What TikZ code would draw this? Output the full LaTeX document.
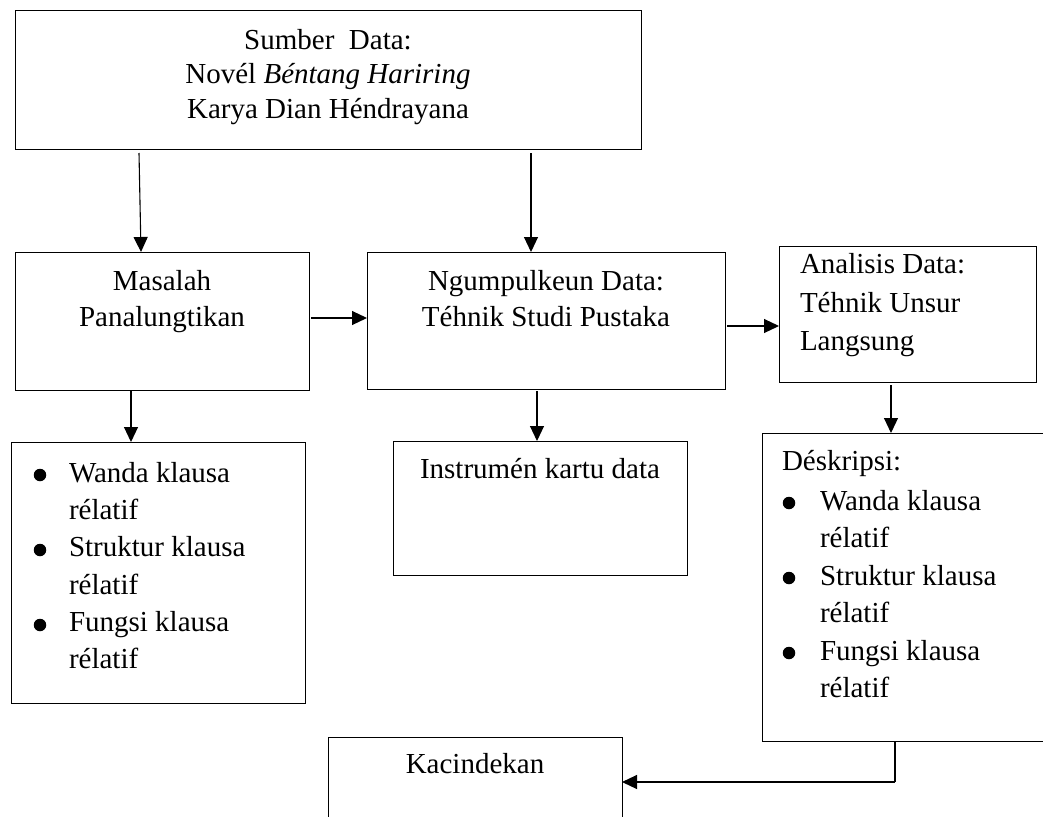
\documentclass[tikz,border=0pt]{standalone}
\usepackage{fontspec}
\setmainfont{Liberation Serif}
\usetikzlibrary{arrows.meta,calc}
\tikzset{
  box/.style={draw=black,line width=1pt,rectangle,inner sep=0pt,outer sep=0pt,anchor=north west},
  arr/.style={draw=black,line width=1.1pt,-{Triangle[length=15pt,width=14pt]}},
  conn/.style={draw=black,line width=1.1pt},
  txt/.style={inner sep=0pt,outer sep=0pt,font=\fontsize{29}{35}\selectfont},
  ctxt/.style={txt,anchor=base},
  ltxt/.style={txt,anchor=base west},
  bul/.style={circle,fill=black,inner sep=0pt,minimum size=12.5pt}
}
\begin{document}
\begin{tikzpicture}[x=1pt,y=-1pt]
\useasboundingbox (0,0) rectangle (1043,816);
\clip (0,0) rectangle (1043,816);
\fill[white] (0,0) rectangle (1043,816);

% boxes
\node[box,minimum width=626pt,minimum height=138pt] (top) at (15,11) {};
\node[box,minimum width=294pt,minimum height=138pt] (mas) at (15,252) {};
\node[box,minimum width=358pt,minimum height=137pt] (ngu) at (367,252) {};
\node[box,minimum width=257pt,minimum height=136pt] (ana) at (779,246) {};
\node[box,minimum width=294pt,minimum height=261pt] (lst) at (11,442) {};
\node[box,minimum width=294pt,minimum height=134pt] (ins) at (393,441) {};
\node[box,minimum width=300pt,minimum height=308pt] (des) at (762,433) {};
\node[box,minimum width=294pt,minimum height=100pt] (kac) at (328,737) {};

% texts
\node[ctxt] (t1) at (328,49) {Sumber\ \ Data:};
\node[ctxt] (t2) at (328,83) {Novél \textit{Béntang Hariring}};
\node[ctxt] (t3) at (328,118) {Karya Dian Héndrayana};

\node[ctxt] (m1) at (162,290) {Masalah};
\node[ctxt] (m2) at (162,326) {Panalungtikan};

\node[ctxt] (n1) at (546,290) {Ngumpulkeun Data:};
\node[ctxt] (n2) at (546,326) {Téhnik Studi Pustaka};

\node[ltxt] (a1) at (800,273) {Analisis Data:};
\node[ltxt] (a2) at (800,312) {Téhnik Unsur};
\node[ltxt] (a3) at (800,350) {Langsung};

\node[ctxt] (i1) at (540,478) {Instrumén kartu data};

\node[bul] (lb1) at (40,475) {};
\node[bul] (lb2) at (40,550) {};
\node[bul] (lb3) at (40,625) {};
\node[ltxt] (l1) at (69,482) {Wanda klausa};
\node[ltxt] (l2) at (69,519) {rélatif};
\node[ltxt] (l3) at (69,556) {Struktur klausa};
\node[ltxt] (l4) at (69,594) {rélatif};
\node[ltxt] (l5) at (69,631) {Fungsi klausa};
\node[ltxt] (l6) at (69,668) {rélatif};

\node[ltxt] (d0) at (782,470) {Déskripsi:};
\node[bul] (db1) at (789,503) {};
\node[bul] (db2) at (789,578) {};
\node[bul] (db3) at (789,653) {};
\node[ltxt] (d1) at (820,510) {Wanda klausa};
\node[ltxt] (d2) at (820,547) {rélatif};
\node[ltxt] (d3) at (820,585) {Struktur klausa};
\node[ltxt] (d4) at (820,622) {rélatif};
\node[ltxt] (d5) at (820,660) {Fungsi klausa};
\node[ltxt] (d6) at (820,697) {rélatif};

\node[ctxt] (k1) at (475,773) {Kacindekan};

% connectors
\draw[arr] ($(top.south west)+(124,4)$) -- ($(mas.north west)+(126,0)$);
\draw[arr] ($(top.south west)+(516,4)$) -- ($(ngu.north west)+(164,0)$);
\draw[arr] ($(mas.north east)+(2,66)$) -- ($(ngu.north west)+(0,66)$);
\draw[arr] ($(ngu.north east)+(2,74)$) -- ($(ana.north west)+(0,80)$);
\draw[arr] ($(mas.south west)+(116,1)$) -- ($(lst.north west)+(120,0)$);
\draw[arr] ($(ngu.south west)+(170,2)$) -- ($(ins.north west)+(144,0)$);
\draw[arr] ($(ana.south west)+(112,3)$) -- ($(des.north west)+(129,0)$);
\coordinate (bend) at (895,782);
\draw[conn] ($(des.south west)+(133,0)$) -- (bend);
\draw[arr] (bend) -- ($(kac.north east)+(0,45)$);
\end{tikzpicture}
\end{document}
